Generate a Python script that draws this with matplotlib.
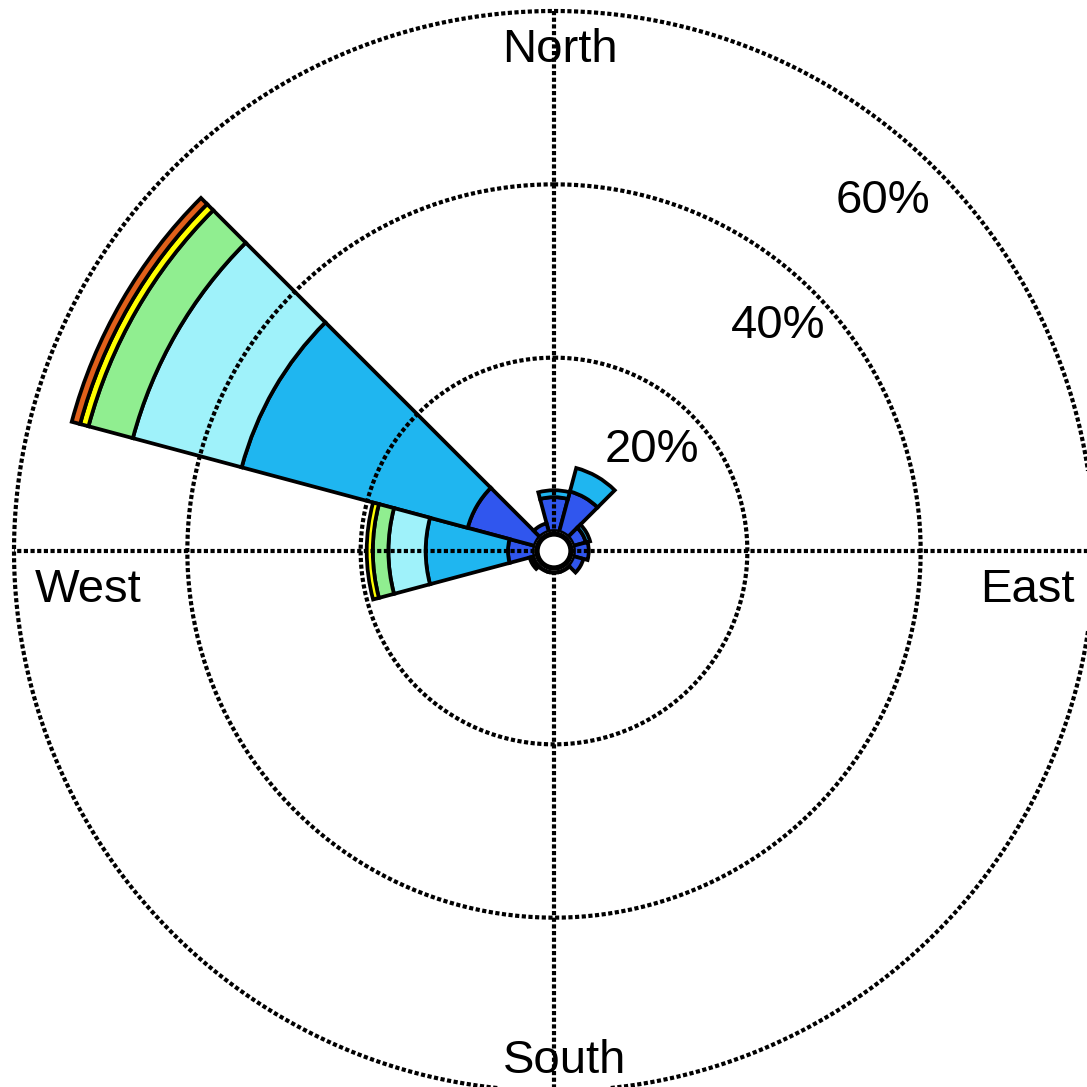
import numpy as np
import matplotlib

matplotlib.use("Agg")
import matplotlib.pyplot as plt  # noqa: E402
from matplotlib.patches import Circle  # noqa: E402

plt.rcParams["font.family"] = ["Liberation Sans", "DejaVu Sans"]

# wind directions (degrees, compass) and frequency (%) per speed class
directions = [0, 30, 60, 90, 120, 150, 180, 210, 240, 270, 300, 330]
speed_1 = [3.9, 4.8, 1.5, 1.7, 1.2, 0.2, 0.2, 0.2, 0.4, 3.0, 8.0, 1.0]
speed_2 = [0.8, 2.8, 0.5, 0.0, 0.0, 0.0, 0.0, 0.0, 0.2, 9.5, 27.0, 0.0]
speed_3 = [0.0, 0.0, 0.0, 0.0, 0.0, 0.0, 0.0, 0.0, 0.0, 4.3, 13.0, 0.0]
speed_4 = [0.0, 0.0, 0.0, 0.0, 0.0, 0.0, 0.0, 0.0, 0.0, 1.8, 5.3, 0.0]
speed_5 = [0.0, 0.0, 0.0, 0.0, 0.0, 0.0, 0.0, 0.0, 0.0, 0.7, 1.0, 0.0]
speed_6 = [0.0, 0.0, 0.0, 0.0, 0.0, 0.0, 0.0, 0.0, 0.0, 0.0, 1.0, 0.0]
speed_colors = ["#3056ee", "#1fb6f0", "#9ff2fa", "#90ee90", "#ffff00", "#e0601a"]

ring_values = [20, 40, 60]
ring_labels = ["20%", "40%", "60%"]

W = 1087
fig = plt.figure(figsize=(W / 100, W / 100), dpi=100)
cx, cy, R = 554, 551, 540
ax = fig.add_axes([(cx - R) / W, (W - cy - R) / W, 2 * R / W, 2 * R / W],
                  projection="polar")
ax.set_theta_zero_location("N")
ax.set_theta_direction(-1)
ax.set_ylim(0, 60)
ax.set_rorigin(-2.31)
ax.grid(False)
ax.set_xticks([])
ax.set_yticks([])
ax.spines["polar"].set_visible(False)
ax.patch.set_alpha(0)

theta = np.deg2rad(directions)
width = np.deg2rad(30)
bottom = np.zeros(len(directions))
for vals, col in zip([speed_1, speed_2, speed_3, speed_4, speed_5, speed_6], speed_colors):
    vals = np.array(vals)
    mask = vals > 0
    ax.bar(theta[mask], vals[mask], width=width, bottom=bottom[mask], color=col,
           edgecolor="black", linewidth=2.7, zorder=2)
    bottom = bottom + vals

dot = (0, (1, 0.6))
t = np.linspace(0, 2 * np.pi, 400)
for r in ring_values:
    ax.plot(t, np.full_like(t, r), color="black", lw=3.0, ls=dot, zorder=3, clip_on=False)
# crosshair through the centre
ax.plot([0, np.pi], [60, 60], color="black", lw=3.0, ls=dot, zorder=3, clip_on=False)
ax.plot([np.pi / 2, 3 * np.pi / 2], [60, 60], color="black", lw=3.0, ls=dot,
        zorder=3, clip_on=False)

ax.add_patch(Circle((0.5, 0.5), 17 / (2 * R), transform=ax.transAxes, facecolor="white",
                    edgecolor="black", linewidth=3.8, zorder=5, clip_on=False))

fs = 34
fig.text(560 / W, 1 - 62 / W, "North", ha="center", va="baseline", fontsize=fs)
fig.text(565 / W, 1 - 1073 / W, "South", ha="center", va="baseline", fontsize=fs)
fig.text(35 / W, 1 - 602 / W, "West", ha="left", va="baseline", fontsize=fs)
fig.text(1075 / W, 1 - 602 / W, "East", ha="right", va="baseline", fontsize=fs)
for lab, (x, y) in zip(ring_labels, [(652, 462), (778, 338), (883, 213)]):
    fig.text(x / W, 1 - y / W, lab, ha="center", va="baseline", fontsize=fs)

fig.savefig("out.png", dpi=100, facecolor="white")
plt.close(fig)
